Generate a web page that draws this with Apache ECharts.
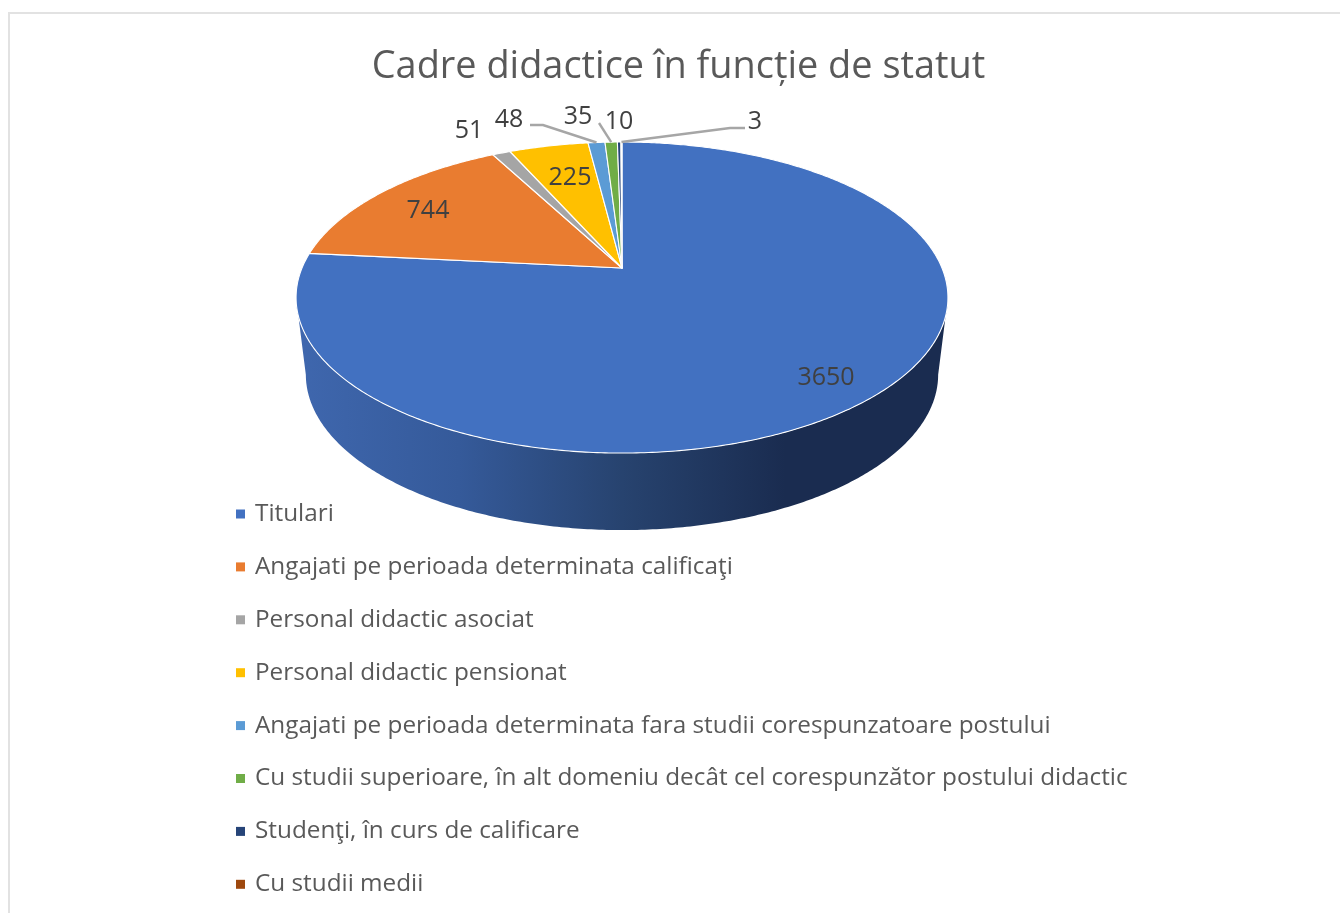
<!DOCTYPE html>
<html>
<head>
<meta charset="utf-8">
<style>html,body{margin:0;padding:0;background:#fff}#c{width:1340px;height:913px}</style>
<script src="https://cdn.jsdelivr.net/npm/echarts@6/dist/echarts.min.js"></script>
</head>
<body>
<div id="c"></div>
<script>
const chartTitle = 'Cadre didactice în funcție de statut';
const categories = [
  'Titulari',
  'Angajati pe perioada determinata calificaţi',
  'Personal didactic asociat',
  'Personal didactic pensionat',
  'Angajati pe perioada determinata fara studii corespunzatoare postului',
  'Cu studii superioare, în alt domeniu decât cel corespunzător postului didactic',
  'Studenţi, în curs de calificare',
  'Cu studii medii'
];
const values = [3650, 744, 51, 225, 48, 35, 10, 3];
const colors = ['#4271C1', '#E97C30', '#A5A5A5', '#FFC000', '#5B9BD5', '#70AD47', '#264478', '#9E480E'];

// label anchors in pixels, with optional leader-line elbow
const labelAnchors = [
  {x: 826, y: 378}, {x: 428, y: 211}, {x: 469, y: 131}, {x: 570, y: 178},
  {x: 509, y: 120, from: [530, 125], elbow: [543, 125]},
  {x: 578, y: 117, from: [599, 123]},
  {x: 619, y: 122},
  {x: 755, y: 122, from: [745, 128], elbow: [730, 128]}
];

// projection of the tilted disc
const view = {cx: 622, apexY: 268, c: 320, b: 149.9, a: 0.19, depth: 77, floorScale: 0.97};
const fontFamily = '"Open Sans","Noto Sans",sans-serif';
const total = values.reduce((s, v) => s + v, 0);
const starts = values.map((_, i) => values.slice(0, i).reduce((s, v) => s + v, 0));

function project(theta) {
  const u = Math.sin(theta), v = Math.cos(theta), w = 1 + view.a * v;
  return [view.cx + view.c * u / w, view.apexY - view.b * v / w];
}
function floorOf(p) {
  return [view.cx + (p[0] - view.cx) * view.floorScale, p[1] + view.depth];
}
// extreme points of the rim, where the visible wall begins and ends
let thetaRight = 0, thetaLeft = 0, maxX = -Infinity, minX = Infinity;
for (let i = 0; i <= 3600; i++) {
  const t = i / 3600 * 2 * Math.PI, x = project(t)[0];
  if (x > maxX) { maxX = x; thetaRight = t; }
  if (x < minX) { minX = x; thetaLeft = t; }
}
function arc(a, b) {
  const n = Math.max(2, Math.ceil((b - a) / 0.01)), pts = [];
  for (let i = 0; i <= n; i++) pts.push(project(a + (b - a) * i / n));
  return pts;
}
const wallGradient = new echarts.graphic.LinearGradient(minX, 0, maxX, 0, [
  {offset: 0, color: '#3f67ae'},
  {offset: 0.25, color: '#355a9a'},
  {offset: 0.5, color: '#27436f'},
  {offset: 0.75, color: '#1a2c50'},
  {offset: 1, color: '#1a2c50'}
], true);

function renderSlice(params, api) {
  const i = params.seriesIndex;
  const a = starts[i] / total * 2 * Math.PI;
  const b = (starts[i] + api.value(0)) / total * 2 * Math.PI;
  const children = [];
  const wa = Math.max(a, thetaRight), wb = Math.min(b, thetaLeft);
  if (wb > wa) {
    const rim = arc(wa, wb);
    children.push({
      type: 'polygon',
      shape: {points: rim.concat(rim.map(floorOf).reverse())},
      style: {fill: wallGradient}
    });
  }
  children.push({
    type: 'polygon',
    shape: {points: [[view.cx, view.apexY]].concat(arc(a, b))},
    style: {fill: colors[i], stroke: '#fff', lineWidth: 1.1, lineJoin: 'round'}
  });
  const anchor = labelAnchors[i];
  if (anchor.from) {
    const end = project((a + b) / 2);
    const pts = [anchor.from];
    if (anchor.elbow) pts.push(anchor.elbow);
    pts.push(end);
    children.push({
      type: 'polyline',
      shape: {points: pts},
      style: {fill: null, stroke: '#a6a6a6', lineWidth: 2.4}
    });
  }
  children.push({
    type: 'text',
    style: {
      text: String(api.value(0)), x: anchor.x, y: anchor.y,
      align: 'center', verticalAlign: 'middle',
      font: '25px ' + fontFamily, fill: '#404040'
    }
  });
  return {type: 'group', children: children};
}

const chart = echarts.init(document.getElementById('c'), null, {renderer: 'canvas'});
chart.setOption({
  animation: false,
  backgroundColor: '#ffffff',
  color: colors,
  title: {
    text: chartTitle, left: 673.5, top: 38, textAlign: 'center',
    textStyle: {fontFamily: fontFamily, fontSize: 37.9, fontWeight: 'normal', color: '#595959', lineHeight: 48}
  },
  legend: {
    orient: 'vertical', left: 236, top: 501, padding: 0,
    icon: 'rect', itemWidth: 9, itemHeight: 9, itemGap: 26.9,
    data: categories, selectedMode: false,
    textStyle: {fontFamily: fontFamily, fontSize: 24.3, color: '#595959', lineHeight: 26, padding: [0, 0, 0, 5]}
  },
  graphic: [
    {type: 'line', shape: {x1: 8, y1: 13, x2: 1340, y2: 13}, style: {stroke: '#e2e2e2', lineWidth: 2}, silent: true},
    {type: 'line', shape: {x1: 9, y1: 13, x2: 9, y2: 913}, style: {stroke: '#e2e2e2', lineWidth: 2}, silent: true}
  ],
  series: categories.map((name, i) => ({
    type: 'custom',
    name: name,
    coordinateSystem: 'none',
    silent: true,
    clip: false,
    itemStyle: {color: colors[i]},
    data: [[values[i]]],
    renderItem: renderSlice
  }))
});
</script>
</body>
</html>
